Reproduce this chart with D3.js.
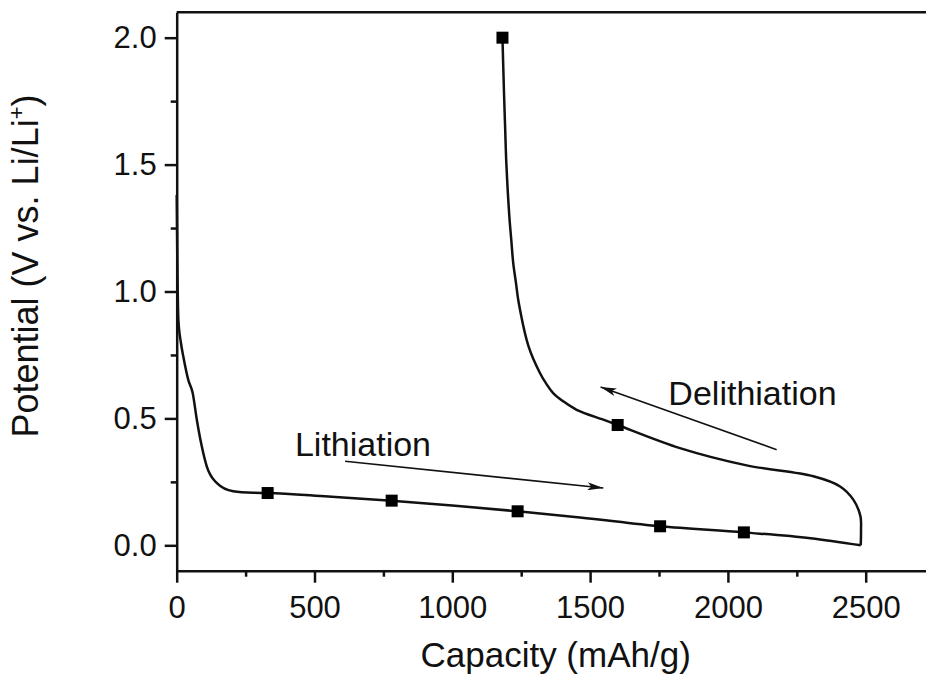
<!DOCTYPE html>
<html>
<head>
<meta charset="utf-8">
<script src="https://cdn.jsdelivr.net/npm/d3@7"></script>
<style>
  body { margin: 0; background: #fff; }
  svg text { font-family: "Liberation Sans", Arial, sans-serif; fill: #111; }
</style>
</head>
<body>
<svg id="chart" width="926" height="683"></svg>
<script>
// Curva de litiación (capacidad mAh/g, potencial V)
const lithCapacity = [0, 2, 6, 15, 24, 42, 58, 73, 91, 109, 145, 205, 278, 330, 550, 780, 1000, 1237, 1463, 1754, 2058, 2300, 2482];
const lithPotential = [1.38, 1.15, 0.89, 0.80, 0.744, 0.652, 0.60, 0.495, 0.39, 0.311, 0.246, 0.213, 0.207, 0.206, 0.192, 0.176, 0.157, 0.134, 0.11, 0.075, 0.051, 0.028, 0.0];

// Curva de delitiación
const delithCapacity = [2482, 2483, 2481, 2455, 2407, 2310, 2068, 1826, 1600, 1548, 1451, 1403, 1366, 1342, 1318, 1277, 1241, 1231, 1221, 1214, 1207, 1196, 1192, 1188, 1182];
const delithPotential = [0.0, 0.06, 0.114, 0.18, 0.232, 0.272, 0.315, 0.383, 0.474, 0.495, 0.534, 0.567, 0.600, 0.635, 0.679, 0.783, 0.956, 1.034, 1.113, 1.203, 1.295, 1.507, 1.636, 1.768, 2.0];

// Marcadores cuadrados
const lithMarkCapacity = [330, 780, 1237, 1754, 2058];
const lithMarkPotential = [0.206, 0.176, 0.134, 0.075, 0.051];
const delithMarkCapacity = [1600, 1182];
const delithMarkPotential = [0.474, 2.0];

// Ticks
const xMajor = [0, 500, 1000, 1500, 2000, 2500];
const xMinor = [250, 750, 1250, 1750, 2250, 2750];
const yMajor = [0.0, 0.5, 1.0, 1.5, 2.0];
const yMinor = [0.25, 0.75, 1.25, 1.75];

// Anotaciones (en coordenadas de datos)
const lithArrow = [[611, 0.331], [1548, 0.226]];
const delithArrow = [[2177, 0.377], [1538, 0.624]];
const lithLabel = {text: "Lithiation", x: 429, y: 0.350};
const delithLabel = {text: "Delithiation", x: 1784, y: 0.554};

const svg = d3.select("#chart");

const x = d3.scaleLinear().domain([0, 2750]).range([176.7, 934.6]);
const y = d3.scaleLinear().domain([-0.1, 2.1]).range([570.7, 12.3]);

const toPts = (xs, ys) => xs.map((v, i) => [v, ys[i]]);

// Marco superior y derecho
svg.append("line")
    .attr("x1", x(0)).attr("x2", x(2750))
    .attr("y1", y(2.1)).attr("y2", y(2.1))
    .attr("stroke", "#111").attr("stroke-width", 2.5);
svg.append("line")
    .attr("x1", x(2750)).attr("x2", x(2750))
    .attr("y1", y(2.1)).attr("y2", y(-0.1))
    .attr("stroke", "#111").attr("stroke-width", 2.5);

// Ejes
function styleAxis(g) {
    g.selectAll("path, line").attr("stroke", "#111").attr("stroke-width", 2.5);
    g.selectAll("text").attr("fill", "#111").style("font-size", "31px")
        .style("font-family", "'Liberation Sans', Arial, sans-serif");
}

const xAxis = svg.append("g")
    .attr("transform", `translate(0,${y(-0.1)})`)
    .call(d3.axisBottom(x).tickValues(xMajor).tickSize(12).tickSizeOuter(0).tickPadding(13).tickFormat(d3.format("d")));
styleAxis(xAxis);
svg.append("g")
    .attr("transform", `translate(0,${y(-0.1)})`)
    .call(d3.axisBottom(x).tickValues(xMinor).tickSize(6).tickSizeOuter(0).tickFormat(""))
    .call(g => g.select(".domain").remove())
    .call(styleAxis);

const yAxis = svg.append("g")
    .attr("transform", `translate(${x(0)},0)`)
    .call(d3.axisLeft(y).tickValues(yMajor).tickSize(12).tickSizeOuter(0).tickPadding(8).tickFormat(d3.format(".1f")));
styleAxis(yAxis);
svg.append("g")
    .attr("transform", `translate(${x(0)},0)`)
    .call(d3.axisLeft(y).tickValues(yMinor).tickSize(6).tickSizeOuter(0).tickFormat(""))
    .call(g => g.select(".domain").remove())
    .call(styleAxis);

// Títulos de ejes
svg.append("text")
    .attr("x", (x(0) + x(2750)) / 2)
    .attr("y", 667)
    .attr("text-anchor", "middle")
    .style("font-size", "35px")
    .text("Capacity (mAh/g)");

const yTitle = svg.append("text")
    .attr("transform", "translate(38,266) rotate(-90)")
    .attr("text-anchor", "middle")
    .style("font-size", "36px");
yTitle.append("tspan").text("Potential (V vs. Li/Li");
yTitle.append("tspan").attr("dy", -14).style("font-size", "22px").text("+");
yTitle.append("tspan").attr("dy", 14).text(")");

// Curvas
const lithLine = d3.line()
    .x(d => x(d[0]))
    .y(d => y(d[1]))
    .curve(d3.curveMonotoneX);

const delithLine = d3.line()
    .x(d => x(d[0]))
    .y(d => y(d[1]))
    .curve(d3.curveCatmullRom.alpha(0.5));

svg.append("path")
    .datum(toPts(lithCapacity, lithPotential))
    .attr("d", lithLine)
    .attr("fill", "none")
    .attr("stroke", "#111")
    .attr("stroke-width", 2.5);

svg.append("path")
    .datum(toPts(delithCapacity, delithPotential))
    .attr("d", delithLine)
    .attr("fill", "none")
    .attr("stroke", "#111")
    .attr("stroke-width", 2.5);

// Marcadores
const markers = toPts(lithMarkCapacity, lithMarkPotential).concat(toPts(delithMarkCapacity, delithMarkPotential));
const ms = 12;
svg.selectAll(".marker")
    .data(markers)
    .enter()
    .append("rect")
    .attr("class", "marker")
    .attr("x", d => x(d[0]) - ms / 2)
    .attr("y", d => y(d[1]) - ms / 2)
    .attr("width", ms)
    .attr("height", ms)
    .attr("fill", "#000");

// Flechas
svg.append("defs").append("marker")
    .attr("id", "head")
    .attr("viewBox", "0 0 16 8")
    .attr("refX", 16).attr("refY", 4)
    .attr("markerWidth", 16).attr("markerHeight", 8)
    .attr("markerUnits", "userSpaceOnUse")
    .attr("orient", "auto")
    .append("path")
    .attr("d", "M0,0 L16,4 L0,8 L4,4 Z")
    .attr("fill", "#111");

[lithArrow, delithArrow].forEach(a => {
    svg.append("line")
        .attr("x1", x(a[0][0])).attr("y1", y(a[0][1]))
        .attr("x2", x(a[1][0])).attr("y2", y(a[1][1]))
        .attr("stroke", "#111")
        .attr("stroke-width", 1.6)
        .attr("marker-end", "url(#head)");
});

// Etiquetas
[lithLabel, delithLabel].forEach(l => {
    svg.append("text")
        .attr("x", x(l.x))
        .attr("y", y(l.y))
        .style("font-size", "34px")
        .text(l.text);
});
</script>
</body>
</html>
